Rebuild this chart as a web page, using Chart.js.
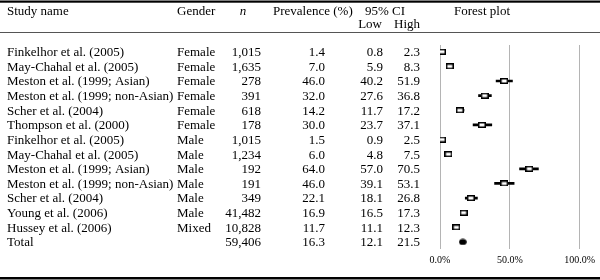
<!DOCTYPE html>
<html>
<head>
<meta charset="utf-8">
<script src="https://cdn.jsdelivr.net/npm/chart.js@4"></script>
<style>
  html, body { margin: 0; padding: 0; background: #fff; }
  #wrap { width: 600px; height: 280px; position: relative; }
</style>
</head>
<body>
<div id="wrap"><canvas id="forest"></canvas></div>
<script>
const studies = [
  "Finkelhor et al. (2005)", "May-Chahal et al. (2005)", "Meston et al. (1999; Asian)",
  "Meston et al. (1999; non-Asian)", "Scher et al. (2004)", "Thompson et al. (2000)",
  "Finkelhor et al. (2005)", "May-Chahal et al. (2005)", "Meston et al. (1999; Asian)",
  "Meston et al. (1999; non-Asian)", "Scher et al. (2004)", "Young et al. (2006)",
  "Hussey et al. (2006)", "Total"
]
const genders = ["Female", "Female", "Female", "Female", "Female", "Female",
  "Male", "Male", "Male", "Male", "Male", "Male", "Mixed", ""]
const sampleN = [1015, 1635, 278, 391, 618, 178, 1015, 1234, 192, 191, 349, 41482, 10828, 59406]
const prevalence = [1.4, 7.0, 46.0, 32.0, 14.2, 30.0, 1.5, 6.0, 64.0, 46.0, 22.1, 16.9, 11.7, 16.3]
const ciLow = [0.8, 5.9, 40.2, 27.6, 11.7, 23.7, 0.9, 4.8, 57.0, 39.1, 18.1, 16.5, 11.1, 12.1]
const ciHigh = [2.3, 8.3, 51.9, 36.8, 17.2, 37.1, 2.5, 7.5, 70.5, 53.1, 26.8, 17.3, 12.3, 21.5]
const xTicks = [0, 50, 100]

const FONT = "13px 'Liberation Serif', 'Times New Roman', serif"
const totalRow = studies.length - 1

// little marker pictures: hollow box for studies, filled dot for the total
function boxMarker() {
    const c = document.createElement("canvas")
    c.width = 8; c.height = 6
    const g = c.getContext("2d")
    g.fillStyle = "#000"; g.fillRect(0, 0, 8, 6)
    g.fillStyle = "#fff"; g.fillRect(1.5, 1.5, 5, 3)
    return c
}
function dotMarker() {
    const c = document.createElement("canvas")
    c.width = 8; c.height = 7
    const g = c.getContext("2d")
    g.fillStyle = "#000"
    g.beginPath(); g.ellipse(4, 3.5, 3.8, 3.1, 0, 0, Math.PI * 2); g.fill()
    return c
}
const box = boxMarker(), dot = dotMarker()

const tablePlugin = {
    id: "table",
    afterDraw(chart) {
        const ctx = chart.ctx
        const ys = chart.scales.y
        ctx.save()
        ctx.fillStyle = "#000"
        ctx.fillRect(0, 0.5, 600, 2.2)
        ctx.fillRect(0, 277, 600, 2.5)
        ctx.fillStyle = "#555"
        ctx.fillRect(0, 32, 600, 1)

        ctx.fillStyle = "#000"
        ctx.font = FONT
        ctx.textBaseline = "middle"
        ctx.textAlign = "left"
        ctx.fillText("Study name", 7, 12)
        ctx.fillText("Gender", 177, 12)
        ctx.fillText("Prevalence (%)", 273, 12)
        ctx.textAlign = "center"
        ctx.fillText("95% CI", 385, 12)
        ctx.fillText("Forest plot", 482, 12)
        ctx.textAlign = "right"
        ctx.fillText("Low", 382, 25)
        ctx.fillText("High", 420, 25)
        ctx.font = "italic " + FONT
        ctx.textAlign = "center"
        ctx.fillText("n", 243, 12)

        ctx.font = FONT
        studies.forEach((s, i) => {
            const y = ys.getPixelForValue(i) + 1
            ctx.textAlign = "left"
            ctx.fillText(s, 7, y)
            ctx.fillText(genders[i], 177, y)
            ctx.textAlign = "right"
            ctx.fillText(sampleN[i].toLocaleString("en-US"), 261, y)
            ctx.fillText(prevalence[i].toFixed(1), 325, y)
            ctx.fillText(ciLow[i].toFixed(1), 383, y)
            ctx.fillText(ciHigh[i].toFixed(1), 420, y)
        })
        ctx.restore()
    }
}

new Chart(document.getElementById("forest"), {
    type: "bar",
    data: {
        datasets: [{
            type: "bar",
            indexAxis: "y",
            order: 2,
            // no whisker is drawn for the pooled total
            data: studies.slice(0, totalRow).map((s, i) => ({y: i, x: [ciLow[i], ciHigh[i]]})),
            backgroundColor: "#000",
            barThickness: 2
        }, {
            type: "scatter",
            order: 1,
            data: prevalence.map((p, i) => ({x: p, y: i})),
            pointStyle: prevalence.map((p, i) => i === totalRow ? dot : box),
            pointRadius: 4
        }]
    },
    plugins: [tablePlugin],
    options: {
        responsive: true,
        maintainAspectRatio: false,
        animation: false,
        layout: {padding: {left: 440, right: 19, top: 45, bottom: 0}},
        plugins: {legend: {display: false}, tooltip: {enabled: false}},
        scales: {
            x: {
                type: "linear",
                min: 0, max: 100,
                offset: false,
                afterBuildTicks: axis => { axis.ticks = xTicks.map(v => ({value: v})) },
                afterFit: axis => { axis.height = 31 },
                border: {display: false},
                grid: {color: "#b4b4b4", lineWidth: 1, drawTicks: false, offset: false},
                ticks: {
                    padding: 5,
                    color: "#000",
                    maxRotation: 0,
                    font: {family: "'Liberation Serif', serif", size: 10},
                    callback: v => v.toFixed(1) + "%"
                }
            },
            y: {
                type: "linear",
                reverse: true,
                offset: false,
                min: -0.46, max: 13.48,
                display: false
            }
        }
    }
})
</script>
</body>
</html>
